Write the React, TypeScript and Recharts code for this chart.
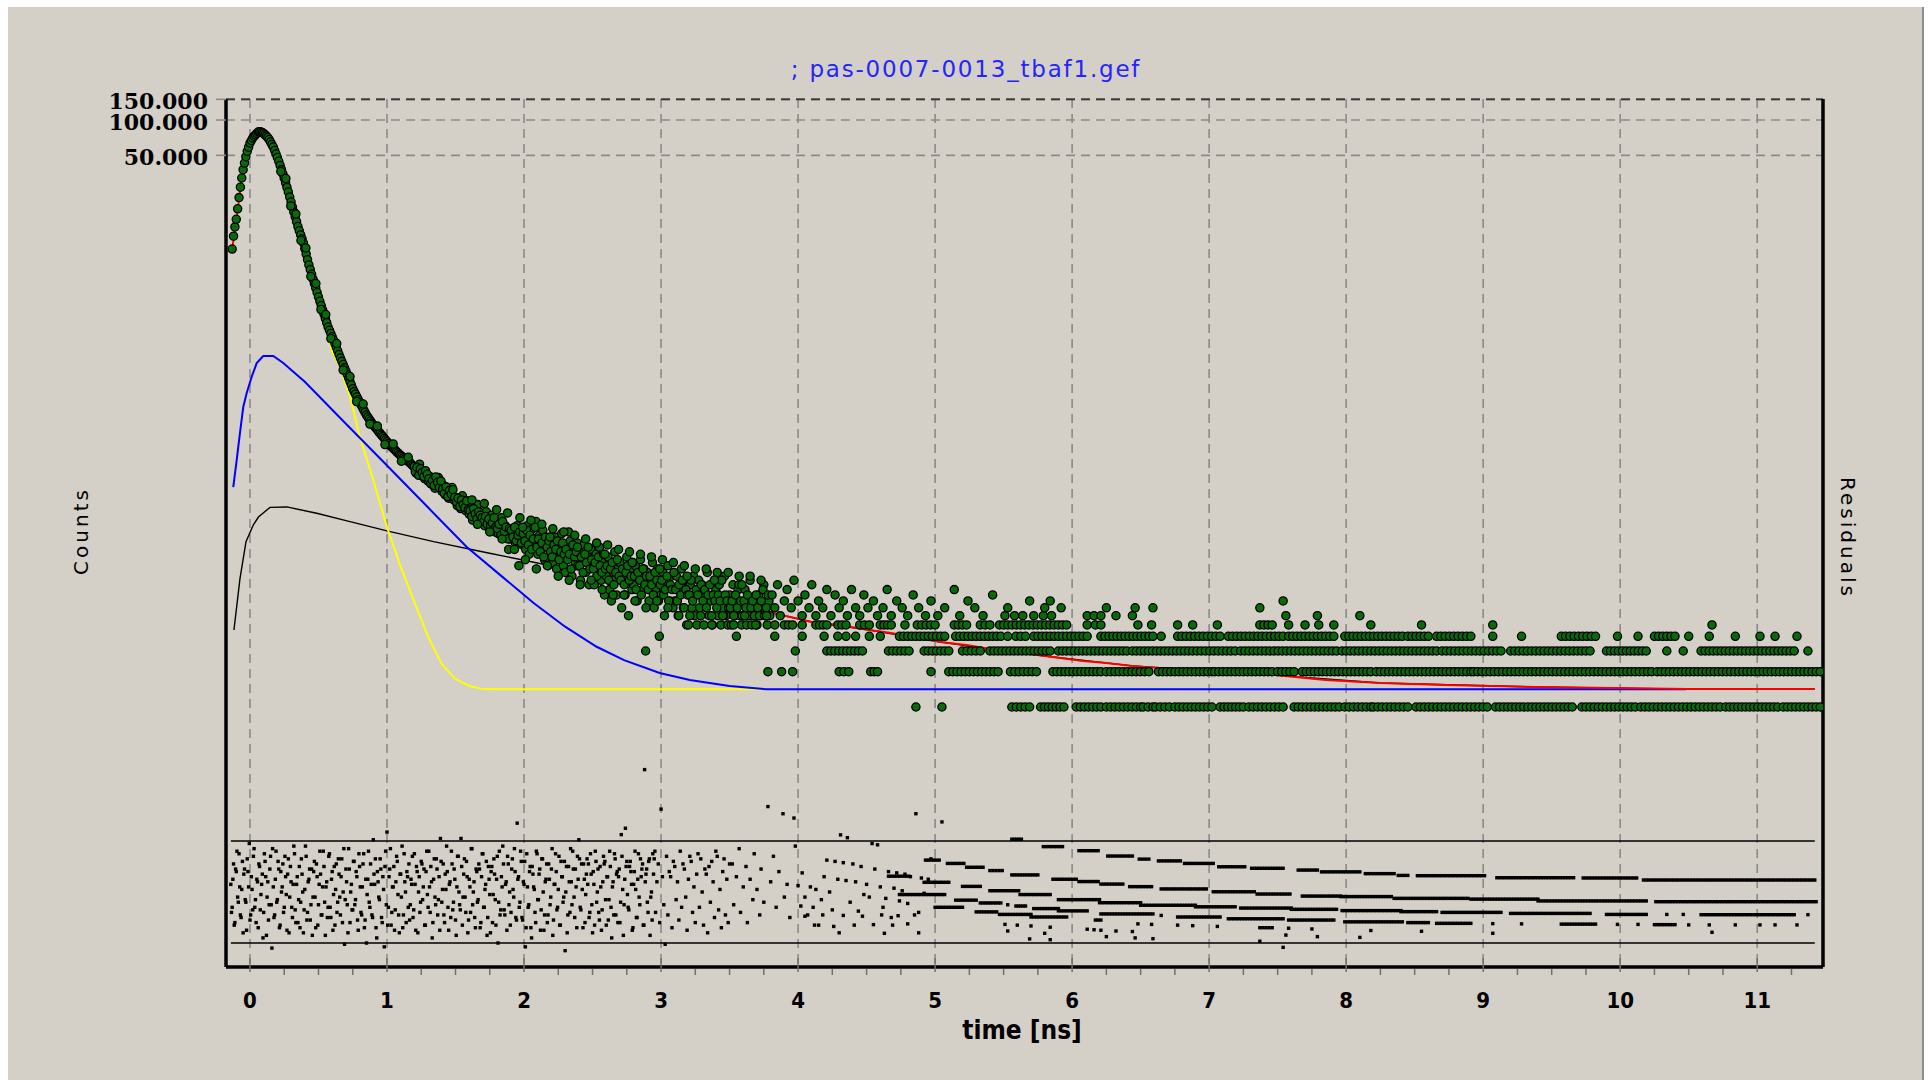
import React from "react";
import { ComposedChart, Line, Scatter, XAxis, YAxis, CartesianGrid, ReferenceLine } from "recharts";

type Pair = [number, number];
type Run = [number, number];
type ResidRun = [number, number, number];

// channel width of the histogram (ns) and spacing used when a run of equal counts is drawn
const CHANNEL_NS = 0.0125;
const RUN_STEP = 0.03;
const RESID_STEP = 0.01;
const RESID_RUN_STEP = 0.02;

// --- axis ticks ---
const timeTicks = [0, 0.25, 0.5, 0.75, 1, 1.25, 1.5, 1.75, 2, 2.25, 2.5, 2.75, 3, 3.25, 3.5, 3.75, 4, 4.25, 4.5, 4.75, 5, 5.25, 5.5, 5.75, 6, 6.25, 6.5, 6.75, 7, 7.25, 7.5, 7.75, 8, 8.25, 8.5, 8.75, 9, 9.25, 9.5, 9.75, 10, 10.25, 10.5, 10.75, 11, 11.25];
const gridTicks = [0, 1, 2, 3, 4, 5, 6, 7, 8, 9, 10, 11];
const countTicks = [50000, 100000, 150000];

// --- measured decay: rise, peak and fast part [t ns, counts] ---
const traceData: Pair[] = [
  [-0.13, 7960], [-0.12, 10240], [-0.11, 12270], [-0.1, 14260], [-0.09, 17520], [-0.08, 21830],
  [-0.07, 26770], [-0.06, 32060], [-0.05, 37730], [-0.04, 43020], [-0.03, 48640], [-0.02, 54130],
  [-0.01, 58660], [0, 63710], [0.01, 66900], [0.02, 70270], [0.03, 72780], [0.04, 74820],
  [0.05, 76900], [0.06, 79040], [0.07, 79350], [0.08, 79040], [0.09, 78120], [0.1, 76900],
  [0.11, 74820], [0.12, 72930], [0.13, 70940], [0.14, 68220], [0.15, 64940], [0.16, 61830],
  [0.17, 58880], [0.18, 54980], [0.19, 51330], [0.2, 47930], [0.21, 44540], [0.22, 41060],
  [0.23, 37810], [0.24, 34850], [0.25, 31940], [0.26, 29180], [0.27, 26670], [0.28, 24360],
  [0.29, 22090], [0.3, 20030], [0.31, 18160], [0.32, 16490], [0.33, 14980], [0.34, 13610],
  [0.35, 12380], [0.36, 11380], [0.37, 10500], [0.38, 9710], [0.39, 8960], [0.4, 8027],
  [0.41, 7208], [0.42, 6458], [0.43, 5833], [0.44, 5318], [0.45, 4850], [0.46, 4414],
  [0.47, 4042], [0.48, 3707], [0.49, 3394], [0.5, 3107], [0.51, 2856], [0.52, 2625],
  [0.53, 2413], [0.54, 2222], [0.55, 2043], [0.56, 1877], [0.57, 1725], [0.58, 1619],
  [0.59, 1519], [0.6, 1425], [0.61, 1337], [0.62, 1246], [0.63, 1161], [0.64, 1082],
  [0.65, 1006], [0.66, 939], [0.67, 880], [0.68, 827], [0.69, 775], [0.7, 728],
  [0.71, 681], [0.72, 634], [0.73, 592], [0.74, 553], [0.75, 515], [0.76, 486],
  [0.77, 462], [0.78, 438], [0.79, 415], [0.8, 395], [0.81, 375], [0.82, 357],
  [0.83, 339], [0.84, 323], [0.85, 307], [0.86, 295], [0.87, 284], [0.88, 273],
  [0.89, 262], [0.9, 252], [0.91, 244], [0.92, 237], [0.93, 229], [0.94, 221],
  [0.95, 214], [0.96, 207], [0.97, 201], [0.98, 194], [0.99, 188], [1.0, 182],
  [1.01, 176], [1.02, 170], [1.03, 166], [1.04, 162], [1.05, 158], [1.06, 154],
  [1.07, 149], [1.08, 146], [1.09, 142], [1.1, 139], [1.11, 136], [1.12, 133],
  [1.13, 130], [1.14, 127], [1.15, 125], [1.16, 122], [1.17, 120], [1.18, 116], [1.19, 113],
];
// channels sitting off the centre of the trace (gives it its width)
const traceEdge: Pair[] = [
  [0.225, 36420], [0.262, 31750], [0.298, 18510], [0.335, 15820], [0.372, 9410], [0.408, 8124],
  [0.444, 4645], [0.481, 4049], [0.518, 2431], [0.553, 2204], [0.59, 1376], [0.633, 1248],
  [0.68, 742], [0.73, 653], [0.778, 400], [0.826, 381], [0.875, 257], [0.93, 247],
  [0.985, 172], [1.045, 174], [1.105, 124], [1.155, 134],
];

// counts per channel from 1.2 ns (8 channels = 0.1 ns), two interleaved channel sets
const CLOUD_START = 1.2;
const cloudCounts: number[] = [
  112, 98, 104, 117, 95, 101, 88, 97,
  84, 92, 79, 86, 73, 81, 90, 75,
  69, 77, 64, 71, 60, 68, 74, 58,
  61, 52, 57, 49, 63, 54, 47, 55,
  44, 51, 39, 47, 42, 53, 37, 45,
  41, 35, 46, 38, 33, 43, 39, 31,
  37, 30, 34, 41, 28, 35, 32, 22,
  27, 33, 30, 25, 35, 16, 31, 24,
  31, 22, 35, 20, 28, 33, 24, 38,
  20, 29, 23, 32, 18, 27, 16, 25,
  25, 17, 28, 15, 23, 20, 30, 16,
  14, 23, 31, 26, 13, 21, 17, 25,
  21, 12, 18, 24, 14, 20, 11, 22,
  18, 11, 20, 14, 23, 12, 17, 9,
  13, 19, 10, 8, 12, 21, 9, 16,
  17, 7, 13, 9, 19, 6, 15, 10,
  11, 16, 8, 13, 18, 10, 15, 3,
  14, 8, 12, 17, 7, 10, 15, 4,
  9, 14, 6, 11, 16, 8, 13, 7,
  8, 13, 6, 10, 15, 7, 12, 5,
  5, 11, 7, 13, 9, 5, 12, 6,
  11, 5, 9, 14, 6, 8, 5, 12,
  10, 6, 11, 5, 7, 13, 6, 5,
  9, 5, 11, 6, 4, 10, 6, 5,
  6, 10, 5, 8, 12, 5, 7, 6,
  5, 9, 6, 7, 11, 6, 5, 8,
];
const CLOUD_START_B = 1.20625;
const cloudCountsB: number[] = [
  101, 110, 94, 107, 99, 92, 103, 96,
  88, 80, 85, 77, 91, 82, 74, 84,
  72, 66, 75, 62, 70, 65, 71, 61,
  56, 60, 51, 58, 53, 50, 57, 48,
  47, 42, 49, 44, 40, 46, 43, 41,
  38, 42, 36, 40, 35, 37, 41, 34,
  33, 36, 29, 38, 31, 34, 27, 33,
  32, 28, 34, 26, 29, 31, 25, 30,
  26, 32, 24, 29, 22, 27, 34, 23,
  27, 21, 25, 19, 28, 23, 26, 21,
  19, 24, 22, 26, 18, 21, 25, 20,
  22, 18, 20, 15, 24, 19, 21, 16,
  16, 19, 14, 20, 17, 23, 15, 18,
  15, 17, 13, 19, 16, 14, 20, 15,
  16, 12, 15, 17, 11, 14, 18, 13,
  12, 15, 11, 14, 16, 12, 13, 17,
  13, 10, 14, 12, 9, 15, 11, 13,
  10, 13, 11, 9, 14, 12, 8, 11,
  12, 9, 10, 13, 8, 11, 10, 14,
  10, 8, 11, 9, 12, 7, 10, 9,
  9, 12, 8, 6, 10, 9, 7, 11,
  8, 10, 7, 9, 11, 6, 9, 8,
  7, 9, 8, 12, 6, 9, 8, 7,
  7, 8, 6, 9, 7, 11, 8, 6,
  8, 7, 9, 6, 7, 8, 6, 9,
  7, 6, 8, 10, 6, 7, 9, 6,
];
// channels at the upper and lower edge of the noisy part [t, counts]
const cloudOuter: Pair[] = [
  [1.62, 58], [1.66, 36], [1.71, 54], [1.75, 31], [1.8, 48], [1.84, 27], [1.88, 45], [1.93, 22],
  [1.97, 41], [2.01, 18], [2.05, 39], [2.09, 15], [2.13, 36], [2.17, 16], [2.21, 33], [2.25, 13],
  [2.29, 31], [2.33, 12], [2.37, 29], [2.41, 11], [2.45, 27], [2.49, 12], [2.53, 25], [2.57, 10],
  [2.61, 24], [2.65, 9], [2.69, 22], [2.73, 9], [2.77, 21], [2.81, 8], [2.85, 20], [2.89, 7],
  [2.93, 19], [2.97, 8], [3.01, 18], [3.05, 7], [3.09, 17], [3.13, 6], [3.17, 16], [3.21, 6],
  [3.25, 15], [3.29, 6], [3.33, 15], [3.37, 5], [3.41, 14], [3.45, 6], [3.49, 14], [3.53, 5],
  [3.57, 13], [3.61, 6], [3.65, 13], [3.69, 5], [3.73, 12], [3.77, 6],
  [1.99, 34], [2.19, 28], [2.39, 23], [2.59, 20], [2.79, 17], [2.99, 15], [3.19, 13], [3.39, 12], [3.59, 11],
];

// single higher counts in the tail [t, counts]
const tailSparse: Pair[] = [
  [3.81, 9], [3.83, 7], [3.85, 11], [3.87, 6], [3.9, 8], [3.92, 10], [3.95, 7], [3.97, 12], [4.0, 8],
  [4.03, 6], [4.05, 9], [4.08, 7], [4.1, 11], [4.13, 6], [4.15, 8], [4.18, 7], [4.21, 10], [4.24, 6],
  [4.27, 9], [4.3, 7], [4.33, 8], [4.36, 6], [4.39, 10], [4.42, 7], [4.45, 6], [4.48, 9], [4.51, 7],
  [4.55, 8], [4.58, 6], [4.62, 7], [4.65, 10], [4.68, 6], [4.72, 8], [4.76, 7], [4.8, 6], [4.84, 9],
  [4.88, 7], [4.93, 6], [4.97, 8], [5.02, 6], [5.07, 7], [5.14, 10], [5.18, 6], [5.24, 8], [5.29, 7],
  [5.35, 6], [5.42, 9], [5.51, 6], [5.53, 7], [5.58, 6], [5.64, 6], [5.69, 8], [5.72, 6], [5.79, 6],
  [5.8, 7], [5.84, 8], [5.85, 6], [5.92, 7], [6.11, 6], [6.16, 6], [6.21, 6], [6.25, 7], [6.32, 6],
  [6.44, 6], [6.46, 7], [6.59, 7], [7.37, 7], [7.54, 8], [7.56, 6], [7.79, 6], [8.1, 6],
];

// runs of channels with the same low count in the tail [from, to]
const runsCount5: Run[] = [
  [3.83, 3.83], [3.9, 3.96], [4.03, 4.03], [4.13, 4.21], [4.29, 4.35], [4.45, 4.52], [4.6, 4.68],
  [4.78, 4.78], [4.87, 5.0], [5.14, 5.23], [5.33, 5.4], [5.47, 5.96], [6.11, 6.11], [6.17, 6.21],
  [6.48, 6.48], [6.58, 6.58], [6.77, 6.77], [6.88, 6.88], [7.06, 7.06], [7.37, 7.46], [7.58, 7.58],
  [7.7, 7.7], [7.8, 7.8], [7.91, 7.91], [8.18, 8.18], [8.55, 8.55], [9.07, 9.07], [10.67, 10.67],
];
const runsCount4: Run[] = [
  [3.83, 3.83], [4.03, 4.03], [4.19, 4.19], [4.29, 4.29], [4.35, 4.35], [4.42, 4.42], [4.52, 4.52],
  [4.6, 4.6], [4.74, 5.07], [5.15, 5.3], [5.33, 5.48], [5.53, 5.53], [5.59, 5.66], [5.72, 6.11],
  [6.21, 6.59], [6.65, 6.65], [6.77, 7.08], [7.14, 7.54], [7.58, 7.91], [7.99, 8.41], [8.45, 8.6],
  [8.66, 8.91], [9.07, 9.07], [9.28, 9.28], [9.57, 9.82], [9.98, 9.98], [10.13, 10.13], [10.25, 10.4],
  [10.5, 10.5], [10.65, 10.65], [10.84, 10.84], [11.02, 11.02], [11.13, 11.13], [11.29, 11.29],
];
const runsCount3: Run[] = [
  [3.98, 3.98], [4.21, 4.47], [4.66, 4.81], [4.92, 5.1], [5.2, 5.33], [5.4, 5.84], [5.9, 6.4],
  [6.44, 6.85], [6.88, 7.19], [7.23, 7.93], [7.97, 8.66], [8.7, 9.13], [9.2, 9.78], [9.9, 10.19],
  [10.34, 10.34], [10.46, 10.46], [10.59, 11.27], [11.37, 11.37],
];
const runsCount2: Run[] = [
  [3.78, 3.78], [3.88, 3.88], [3.96, 3.96], [4.3, 4.37], [4.53, 4.58], [4.97, 4.97], [5.1, 5.46],
  [5.55, 5.74], [5.86, 6.21], [6.25, 6.56], [6.63, 7.02], [7.04, 7.46], [7.5, 7.62], [7.68, 8.18],
  [8.22, 8.91], [8.93, 10.23], [10.27, 11.46],
];
const runsCount1: Run[] = [
  [4.86, 4.86], [5.05, 5.05], [5.56, 5.69], [5.77, 5.94], [6.03, 6.21], [6.25, 6.5], [6.52, 6.59],
  [6.61, 6.71], [6.75, 7.02], [7.08, 7.25], [7.29, 7.54], [7.62, 7.95], [7.99, 8.18], [8.2, 8.45],
  [8.51, 9.03], [9.09, 9.65], [9.72, 10.11], [10.15, 10.73], [10.77, 11.15], [11.19, 11.46],
];

// --- fit and its components [t, counts] ---
const fitCurve: Pair[] = [
  [-0.13, 7900], [-0.097, 14800], [-0.06, 32000], [-0.024, 52000], [0.024, 71500], [0.06, 78500],
  [0.097, 77000], [0.17, 58500], [0.243, 34000], [0.316, 17000], [0.39, 9000], [0.462, 4300],
  [0.535, 2300], [0.61, 1330], [0.706, 700], [0.803, 385], [0.9, 250], [1.02, 170], [1.168, 118],
  [1.34, 84], [1.53, 57], [1.73, 40], [2.0, 25], [2.3, 18.5], [2.58, 14.1], [2.97, 10.5], [3.25, 8.66],
  [3.72, 6.71], [4.1, 5.3], [4.3, 4.99], [4.52, 4.53], [4.68, 4.27], [5.04, 3.58], [5.23, 3.37],
  [5.4, 3.12], [5.8, 2.72], [6.08, 2.47], [6.25, 2.37], [6.44, 2.24], [6.63, 2.15], [7.0, 2.03],
  [7.48, 1.87], [7.85, 1.7], [8.25, 1.6], [8.72, 1.54], [9.39, 1.48], [10.5, 1.42], [11.42, 1.42],
];
const fastComponent: Pair[] = [
  [-0.13, 7510], [-0.097, 14070], [-0.06, 30200], [0, 60100], [0.06, 74600], [0.097, 73100],
  [0.17, 55600], [0.243, 31400], [0.316, 15820], [0.39, 8280], [0.462, 3933], [0.535, 2057],
  [0.596, 1099], [0.657, 772], [0.73, 446], [0.8, 203], [0.9, 85.8], [1.0, 34.1], [1.1, 15.6],
  [1.2, 7.84], [1.3, 3.95], [1.4, 2.32], [1.5, 1.73], [1.6, 1.51], [1.7, 1.42], [3.77, 1.415],
];
const midComponent: Pair[] = [
  [-0.122, 74.8], [-0.097, 127], [-0.073, 216], [-0.049, 359], [-0.024, 473], [0.012, 647],
  [0.049, 851], [0.097, 977], [0.17, 977], [0.243, 851], [0.4, 589], [0.7, 259], [1.0, 114],
  [1.3, 50], [1.58, 23.2], [1.84, 12.9], [2.07, 7.69], [2.3, 4.83], [2.53, 3.26], [2.73, 2.51],
  [2.99, 1.95], [3.21, 1.7], [3.5, 1.51], [3.77, 1.415], [10.48, 1.415],
];
const slowComponent: Pair[] = [
  [-0.117, 4.53], [-0.073, 12.4], [-0.029, 25.6], [0.024, 35.5], [0.062, 41.5], [0.146, 50.2],
  [0.27, 50.6], [0.487, 44.7], [0.73, 37.9], [1.0, 31.6], [1.34, 25.6], [1.74, 20.5], [2.17, 16.2],
  [2.58, 13.6], [2.97, 10.4], [3.25, 8.6], [3.72, 6.71], [4.1, 5.3], [4.52, 4.53], [5.04, 3.58],
  [5.4, 3.12], [5.8, 2.72], [6.44, 2.24], [7.0, 2.03], [7.48, 1.87], [8.25, 1.6], [9.39, 1.48],
  [10.5, 1.42], [11.42, 1.42],
];

// --- weighted residuals, two interleaved channel sets ---
const RESID_START = -0.14;
const residEarly: number[] = [
  0.3, -0.6, 1.1, -1.2, 0.8, -0.2, 1.5, -0.9, 0.1, -1.6,
  0.9, -0.4, 1.3, 0.2, -1.1, 0.6, -0.7, 1.7, -0.3, 0.5,
  -1.4, 1.0, -0.1, 0.7, -0.8, 1.2, -1.7, 0.4, -0.5, 1.4,
  -2.2, 0.2, -0.9, 1.6, -0.3, 0.9, -1.3, 0.0, 1.1, -0.6,
  0.6, -1.5, 1.3, -0.2, 0.4, -1.0, 1.8, -0.7, 0.3, -1.2,
  1.0, -0.4, 0.7, -1.6, 0.1, 1.4, -0.8, 0.5, -1.1, 0.9,
  -0.2, 1.2, -1.4, 0.6, -0.5, 1.6, -0.9, 0.2, 1.0, -1.7,
  0.4, -0.6, 1.5, -1.0, 0.8, -0.1, -1.3, 1.1, -0.4, 0.7,
  -0.9, 1.3, 0.0, -2.05, 0.9, -0.5, 1.7, -1.2, 0.3, -0.7,
  1.2, -0.3, 0.6, -1.5, 1.0, -0.8, 0.2, 1.5, -1.1, -2.0,
  0.5, -0.4, 1.1, -0.9, 2.05, 0.3, -1.4, 0.8, -0.2, 1.3,
  -1.0, 0.6, -2.15, 1.6, 2.35, -0.6, 0.9, -1.3, 0.2, 1.0,
  -0.7, 1.4, -0.1, -1.6, 0.7, 1.8, -0.9, 0.4, -1.2, 0.6,
  1.1, -0.5, 0.3, -1.0, 1.5, -1.5, 0.8, 0.0, -0.8, 1.2,
  -0.3, 0.9, -1.3, 1.6, -0.6, 0.2, 1.0, -1.8, 0.5, -0.2,
  1.3, -0.9, 0.6, 2.1, -0.4, 1.1, -1.2, 0.1, 0.8, -1.5,
  0.4, 1.6, -0.7, 0.9, -1.1, 0.2, 1.4, -0.5, 2.1, -1.3,
  0.7, -0.2, 1.2, -1.6, 0.5, -0.8, 1.7, 0.0, -1.0, 0.9,
  -0.4, 1.1, -1.4, 0.6, 1.5, -0.6, 0.3, -1.7, 1.0, -0.1,
  0.8, -1.2, 1.3, -0.3, 0.5, -2.0, 1.6, -0.7, 0.2, 1.1,
  -0.9, 0.4, 1.4, -0.5, -1.3, 0.9, 0.1, 1.7, -1.0, 2.7,
  0.6, -0.4, 1.2, -1.1, 0.3, -2.15, 1.5, -0.6, 0.8, -1.4,
  1.0, 0.2, -0.8, 1.6, -0.3, 0.7, -1.5, 1.3, 0.0, -0.9,
  0.5, -1.2, 1.1, -0.5, 0.9, -1.7, 0.3, 1.5, -0.7, 0.1,
  -1.3, 1.2, 0.6, -0.2, -2.3, 1.0, -0.9, 0.4, 1.7, -0.5,
  0.9, -1.0, 0.2, 1.4, 2.05, -0.6, 1.1, -1.4, 0.5, -0.1,
  1.3, 1.1, -0.8, 0.7, -1.6, 0.3, 1.6, -0.4, 0.9, -1.1,
  0.2, -0.7, 1.4, 1.2, -1.3, 0.6, -0.3, 1.0, -1.8, 0.4,
  1.5, -0.9, 0.8, 0.6, -1.2, 2.25, 0.1, -0.5, 2.5, 1.2,
  -0.6, 1.0, 0.8, -1.5, 0.3, 1.6, -1.0, 0.5, -0.2, 1.3,
  0.9, -1.3, 4.8, 0.7, -0.4, 1.2, -1.7, 0.0, 1.5, 1.3,
  -0.8, 0.4, 1.1, -1.2, 3.25, 0.6, -0.5, -2.05, 1.4, -0.9,
  0.8, 0.6, -1.4, 1.2, 1.0, -0.3, 0.4, -1.1, 1.6, -0.6,
  1.1, 0.9, -0.2, -1.5, 0.5, 1.4, 1.2, -0.8, 0.2, -1.2,
  0.7, 1.5, -0.6, 1.3, 0.0, -1.3, 0.9, 0.7, -1.6, 1.0,
  -0.4, 1.2, 0.4, -1.0, 1.6, 1.4, -0.7, 0.1, -1.4, 0.8,
  1.3, -0.9, 0.5, -1.2, 1.1,
];
const RESID_START_B = -0.135;
const residEarlyB: number[] = [
  -0.8, 0.5, -1.3, 0.9, 1.6, -0.4, 0.2, -1.0, 1.2, 0.7,
  -0.3, -1.5, 0.8, 1.9, -0.9, 0.1, 1.4, -0.6, -1.2, 0.4,
  1.1, -0.7, 0.3, -1.8, 1.5, 0.6, -0.2, -1.1, 0.9, -0.5,
  1.7, -1.0, 0.5, -0.4, 1.2, -1.4, 0.8, 0.2, -0.8, 1.4,
  -0.1, 0.7, -1.6, 1.0, -0.6, 0.3, 1.5, -1.2, 0.6, -0.3,
  -1.4, 1.3, 0.0, -0.7, 1.8, -1.1, 0.4, 0.9, -0.5, -1.7,
  0.8, -0.2, 1.1, -1.3, 0.3, 0.7, -0.9, 1.6, -0.4, 0.2,
  -1.0, 1.4, -0.6, 0.5, -1.5, 1.0, 0.1, -0.8, 1.3, -0.2,
  0.6, -1.2, 1.7, -0.3, 0.4, -1.6, 0.9, 0.0, -0.7, 1.2,
  -0.5, 0.8, -1.1, 1.5, 0.2, -0.9, 1.1, -1.4, 0.5, -0.1,
  1.6, -0.6, 0.3, -1.0, 0.7, 1.3, -1.8, 0.4, -0.3, 0.9,
  -1.2, 0.1, 1.0, -0.5, -1.3, 0.6, 1.7, -0.8, 0.2, -1.5,
  0.4, 1.2, -0.9, 0.7, -0.2, -1.4, 1.5, 0.0, 0.8, -0.6,
  -1.1, 0.5, 1.4, -0.7, 0.3, 1.0, -1.6, 0.6, -0.4, 1.1,
  0.2, -1.3, 0.8, -0.1, 1.6, -0.8, 0.4, -1.2, 1.3, -0.5,
  0.9, -0.3, -1.5, 1.2, 0.1, -0.9, 0.7, 1.8, -0.6, 0.3,
  -1.0, 1.1, -0.4, 0.5, -1.7, 1.4, 0.0, -0.7, 1.0, -0.2,
  1.3, -0.8, 0.6, -1.1, 0.2, 1.7, -0.5, 0.4, -1.4, 0.8,
  -0.3, 0.9, -1.2, 1.5, -0.6, 0.1, 1.2, -1.0, 0.5, -1.6,
  1.0, -0.1, 0.7, -1.3, 1.4, -0.4, -0.9, 0.6, 1.8, -0.7,
  0.3, -1.5, 1.1, 0.0, -0.8, 1.3, -0.2, 0.8, -1.1, 0.5,
  -0.6, 1.6, -1.0, 0.4, 1.2, -1.4, 0.2, -0.5, 1.0, -1.8,
  0.7, 0.1, -1.2, 1.5, -0.3, 0.9, -0.7, 1.3, -1.5, 0.4,
  1.1, -0.9, 0.5, -0.2, 1.7, -1.1, 0.3, 0.8, -0.6, 1.4,
  -1.3, 0.6, -0.4, 1.2, 0.0, -1.6, 1.0, -0.8, 0.4, 1.6,
  -0.2, 0.9, -1.4, 0.5, 1.3, -0.7, 0.1, 1.1, -1.2, 0.7,
  0.3, -1.0, 1.5, -0.5, 0.8, -1.3, 1.2, 0.0, -0.8, 1.0,
  -1.5, 0.4, 1.1, -0.3, 0.6, -1.1, 1.6, -0.6, 0.2, -0.9,
  1.3, 0.7, -1.2, 0.9, -0.4, 1.4, -1.7, 0.5, 1.0, -0.1,
  -0.7, 1.2, 0.3, -1.4, 0.8, 0.1, -1.0, 1.5, -0.5, 0.6,
  1.1, -1.3, 0.4, 0.9, -0.8, 1.3, -0.2, -1.1, 0.7, 1.6,
];
const residMid: Pair[] = [
  [3.52, 1.1], [3.53, -0.5], [3.55, 0.6], [3.57, 1.7], [3.58, -0.8], [3.6, 0.2], [3.62, 1.0], [3.63, -1.2],
  [3.65, 0.5], [3.67, -0.3], [3.68, 1.5], [3.7, 0.1], [3.72, -0.9], [3.73, 0.9], [3.75, -0.4], [3.78, 3.35],
  [3.8, 0.4], [3.82, 1.4], [3.84, -0.6], [3.86, 0.8], [3.89, 3.07], [3.9, -0.2], [3.92, 0.3], [3.94, -1.0],
  [3.97, 2.9], [3.98, 1.8], [4.0, 0.25], [4.02, -0.55], [4.03, 0.75], [4.05, -0.2], [4.07, -0.9], [4.09, 0.2],
  [4.11, -0.6], [4.13, 0.1], [4.15, -1.3], [4.17, -0.3], [4.19, 0.6], [4.21, 1.25], [4.23, 0.0], [4.25, -0.7],
  [4.27, 1.2], [4.29, 0.5], [4.31, 2.24], [4.33, 1.15], [4.35, 0.45], [4.36, 2.13], [4.38, -0.4], [4.4, 1.1],
  [4.42, 0.4], [4.44, -0.75], [4.46, 1.0], [4.48, -0.1], [4.5, 0.3], [4.52, -0.2], [4.54, 1.9], [4.56, 0.9],
  [4.58, 1.85], [4.6, 0.2], [4.62, -0.6], [4.64, -0.25], [4.66, 0.8], [4.68, -1.0], [4.7, 0.15], [4.72, 0.75],
  [4.74, -0.35], [4.76, 0.05], [4.78, 0.7], [4.8, -0.45], [4.82, 0.6], [4.86, 3.07], [4.88, -0.8], [4.9, 0.55],
  [4.92, -0.05], [4.95, 0.5], [4.97, 1.3], [5.05, 2.75],
  [4.05, -0.95], [4.12, -1.3], [4.18, -0.9], [4.26, -1.35], [4.33, -0.92], [4.41, -1.3], [4.47, -0.95],
  [4.55, -1.28], [4.61, -0.9], [4.69, -1.3], [4.73, -0.93], [4.8, -1.25], [4.85, -0.9], [4.88, -1.6],
  [4.3, -1.6], [4.63, -1.62],
  [5.51, -1.27], [5.6, -1.3], [5.7, -1.33], [5.84, -1.38], [6.11, -1.46], [6.16, -1.48], [6.21, -1.5],
  [6.32, -1.53], [6.44, -1.55], [7.56, -1.69], [7.79, -1.75], [8.1, -1.78], [5.53, -1.53], [5.8, -1.62],
  [6.25, -1.75], [6.46, -1.8], [6.59, -1.83], [7.37, -1.93], [5.69, -1.84], [5.84, -1.87], [7.54, -2.17],
];
// residual rows of the tail [from, to, residual]
const residRowsCount1: ResidRun[] = [
  [5.56, 5.63, 2.07], [5.79, 5.93, 1.78], [6.05, 6.19, 1.62], [6.26, 6.44, 1.41], [6.49, 6.56, 1.29],
  [6.63, 6.79, 1.22], [6.82, 7.03, 1.12], [7.07, 7.26, 0.99], [7.31, 7.54, 0.93], [7.65, 7.79, 0.86],
  [7.82, 8.1, 0.79], [8.14, 8.35, 0.72], [8.38, 8.45, 0.65], [8.52, 9.01, 0.64], [9.1, 9.66, 0.56],
  [9.73, 10.12, 0.55], [10.17, 10.75, 0.47], [10.77, 11.17, 0.47], [11.19, 11.42, 0.47],
];
const residRowsCount2: ResidRun[] = [
  [4.93, 5.03, 1.25], [5.09, 5.21, 1.12], [5.23, 5.35, 0.97], [5.4, 5.49, 0.84], [5.56, 5.75, 0.67],
  [5.86, 6.03, 0.5], [6.05, 6.19, 0.41], [6.21, 6.37, 0.31], [6.42, 6.58, 0.21], [6.65, 6.98, 0.12],
  [7.03, 7.33, 0.01], [7.35, 7.59, -0.08], [7.68, 7.96, -0.16], [7.96, 8.33, -0.18], [8.35, 8.89, -0.25],
  [8.91, 9.4, -0.28], [9.4, 10.19, -0.35], [10.26, 11.43, -0.38],
];
const residRowsCount3: ResidRun[] = [
  [4.66, 4.81, 0.62], [4.92, 5.1, 0.38], [5.2, 5.33, 0.22], [5.4, 5.61, 0.05], [5.62, 5.84, -0.1],
  [5.9, 6.2, -0.3], [6.2, 6.5, -0.42], [6.5, 6.9, -0.52], [6.9, 7.19, -0.58], [7.23, 7.6, -0.63],
  [7.6, 7.93, -0.68], [7.97, 8.4, -0.73], [8.4, 8.66, -0.77], [8.7, 9.13, -0.8], [9.2, 9.78, -0.84],
  [9.9, 10.19, -0.88], [10.34, 10.34, -0.88], [10.46, 10.46, -0.88], [10.59, 11.27, -0.89], [11.37, 11.37, -0.89],
];
const residRowsCount4: ResidRun[] = [
  [4.74, 5.07, -0.1], [5.15, 5.3, -0.32], [5.33, 5.48, -0.43], [5.53, 5.53, -0.5], [5.59, 5.66, -0.55],
  [5.72, 5.9, -0.65], [5.9, 6.11, -0.74], [6.21, 6.59, -0.86], [6.65, 6.65, -0.92], [6.77, 7.08, -0.98],
  [7.14, 7.54, -1.05], [7.58, 7.91, -1.1], [7.99, 8.41, -1.17], [8.45, 8.6, -1.2], [8.66, 8.91, -1.23],
  [9.07, 9.07, -1.24], [9.28, 9.28, -1.25], [9.57, 9.82, -1.26], [9.98, 9.98, -1.27], [10.13, 10.13, -1.27],
  [10.25, 10.4, -1.28], [10.5, 10.5, -1.29], [10.65, 10.65, -1.29], [10.84, 10.84, -1.29], [11.02, 11.02, -1.29],
  [11.13, 11.13, -1.29], [11.29, 11.29, -1.29],
];
const residRowsCount5: ResidRun[] = [
  [5.0, 5.2, -0.6], [5.3, 5.45, -0.78], [5.47, 5.7, -0.88], [5.7, 5.96, -0.98], [6.17, 6.21, -1.1],
  [6.48, 6.48, -1.25], [6.58, 6.58, -1.27], [6.77, 6.77, -1.3], [6.88, 6.88, -1.32], [7.06, 7.06, -1.35],
  [7.37, 7.46, -1.4], [7.58, 7.58, -1.42], [7.75, 7.75, -1.45], [8.18, 8.18, -1.51], [8.55, 8.55, -1.54],
  [9.07, 9.07, -1.62], [10.67, 10.67, -1.58],
];

const BAND = 2; // residual band drawn at +/- 2

// --- build the series tables ---
const spread = (a: number, b: number, step: number) => {
  const n = Math.max(0, Math.round((b - a) / step));
  const out: number[] = [];
  for (let i = 0; i <= n; i++) out.push(n === 0 ? a : a + ((b - a) * i) / n);
  return out;
};
const fromRuns = (runs: Run[], c: number) => runs.flatMap(([a, b]) => spread(a, b, RUN_STEP).map((t) => ({ t, c })));
const fromResidRuns = (runs: ResidRun[]) => runs.flatMap(([a, b, r]) => spread(a, b, RESID_RUN_STEP).map((t) => ({ t, r })));
const toRows = (pairs: Pair[]) => pairs.map(([t, c]) => ({ t, c }));

const countData = [
  ...toRows(traceData),
  ...toRows(traceEdge),
  ...cloudCounts.map((c, i) => ({ t: CLOUD_START + i * CHANNEL_NS, c })),
  ...cloudCountsB.map((c, i) => ({ t: CLOUD_START_B + i * CHANNEL_NS, c })),
  ...toRows(cloudOuter),
  ...toRows(tailSparse),
  ...fromRuns(runsCount5, 5),
  ...fromRuns(runsCount4, 4),
  ...fromRuns(runsCount3, 3),
  ...fromRuns(runsCount2, 2),
  ...fromRuns(runsCount1, 1),
];

const residData = [
  ...residEarly.map((r, i) => ({ t: RESID_START + i * RESID_STEP, r })),
  ...residEarlyB.map((r, i) => ({ t: RESID_START_B + i * RESID_STEP, r })),
  ...residMid.map(([t, r]) => ({ t, r })),
  ...fromResidRuns(residRowsCount1),
  ...fromResidRuns(residRowsCount2),
  ...fromResidRuns(residRowsCount3),
  ...fromResidRuns(residRowsCount4),
  ...fromResidRuns(residRowsCount5),
];

const DataDot = (p: any) => {
  if (p.cx == null || p.cy == null) return <g />;
  return <circle cx={p.cx} cy={p.cy} r={4.1} fill="#0a6a0a" stroke="#000" strokeWidth={1.3} />;
};
const ResidDot = (p: any) => {
  if (p.cx == null || p.cy == null) return <g />;
  return <rect x={p.cx - 1.7} y={p.cy - 1.7} width={3.4} height={3.4} fill="#000" />;
};

const tickFont = "'DejaVu Sans Condensed', 'Liberation Sans Narrow', 'DejaVu Sans', sans-serif";

const TimeTick = (p: any) => {
  const { x, y, payload } = p;
  const v = payload.value as number;
  const major = Number.isInteger(v);
  return (
    <g>
      {major ? (
        <line x1={x} x2={x} y1={y - 9} y2={y + 5} stroke="#707070" strokeWidth={1.5} />
      ) : (
        <line x1={x} x2={x} y1={y + 2} y2={y + 8} stroke="#707070" strokeWidth={1.5} />
      )}
      {major && (
        <text x={x} y={y + 41} textAnchor="middle" fontFamily={tickFont} fontWeight="bold" fontSize={22} fill="#000" style={{ fontStretch: "condensed" }}>
          {v}
        </text>
      )}
    </g>
  );
};

const CountTick = (p: any) => {
  const { x, y, payload } = p;
  return (
    <text x={x} y={y + 10} textAnchor="end" fontFamily="'DejaVu Serif', serif" fontWeight="bold" fontSize={22} fill="#000">
      {`${Math.round(payload.value / 1000)}.000`}
    </text>
  );
};

export default function App() {
  return (
    <div style={{ position: "absolute", left: 0, top: 0, width: 1930, height: 1080, background: "#fff", overflow: "hidden" }}>
      <div style={{ position: "absolute", left: 8, top: 7, width: 1914, height: 1073, background: "#d4d0c8", borderRight: "2px solid #8c8c8c" }} />
      <div style={{ position: "absolute", left: 0, top: 0 }}>
        <ComposedChart width={1930} height={1080} margin={{ top: 99, right: 97, bottom: 73, left: 166 }}>
          <XAxis xAxisId="grid" dataKey="t" type="number" orientation="top" height={0} domain={[-0.175, 11.48]} allowDataOverflow ticks={gridTicks} hide />
          <XAxis
            xAxisId="t"
            dataKey="t"
            type="number"
            domain={[-0.175, 11.48]}
            allowDataOverflow
            ticks={timeTicks}
            interval={0}
            height={40}
            tickLine={false}
            tickSize={0}
            tickMargin={0}
            axisLine={{ stroke: "#000", strokeWidth: 3.5 }}
            tick={TimeTick}
          />
          <YAxis
            yAxisId="counts"
            dataKey="c"
            type="number"
            scale="log"
            domain={[0.0061, 151000]}
            allowDataOverflow
            ticks={countTicks}
            interval={0}
            width={60}
            tickSize={10}
            tickMargin={8}
            tickLine={{ stroke: "#8a8a8a", strokeWidth: 1.6 }}
            axisLine={{ stroke: "#000", strokeWidth: 3.5 }}
            tick={CountTick}
          />
          <YAxis
            yAxisId="resid"
            dataKey="r"
            orientation="right"
            type="number"
            domain={[-2.941, 31.098]}
            allowDataOverflow
            width={10}
            tick={false}
            tickLine={false}
            axisLine={{ stroke: "#000", strokeWidth: 3.5 }}
          />
          <CartesianGrid xAxisId="grid" yAxisId="counts" stroke="#8a8a8a" strokeWidth={1.6} strokeDasharray="9 6" />
          <ReferenceLine xAxisId="t" yAxisId="counts" y={150000} stroke="#383838" strokeWidth={1.6} strokeDasharray="9 6" />
          <ReferenceLine xAxisId="t" yAxisId="resid" segment={[{ x: -0.139, y: BAND }, { x: 11.42, y: BAND }]} stroke="#000" strokeWidth={1.6} />
          <ReferenceLine xAxisId="t" yAxisId="resid" segment={[{ x: -0.139, y: -BAND }, { x: 11.42, y: -BAND }]} stroke="#000" strokeWidth={1.6} />
          <Line xAxisId="t" yAxisId="counts" data={toRows(slowComponent)} dataKey="c" type="linear" stroke="#000" strokeWidth={1.4} dot={false} isAnimationActive={false} />
          <Line xAxisId="t" yAxisId="counts" data={toRows(fastComponent)} dataKey="c" type="linear" stroke="#ffff00" strokeWidth={2} dot={false} isAnimationActive={false} />
          <Line xAxisId="t" yAxisId="counts" data={toRows(midComponent)} dataKey="c" type="linear" stroke="#0000ff" strokeWidth={2} dot={false} isAnimationActive={false} />
          <Line xAxisId="t" yAxisId="counts" data={toRows(fitCurve)} dataKey="c" type="linear" stroke="#ff0000" strokeWidth={2} dot={false} isAnimationActive={false} />
          <Scatter xAxisId="t" yAxisId="counts" data={countData} dataKey="c" shape={DataDot} isAnimationActive={false} />
          <Scatter xAxisId="t" yAxisId="resid" data={residData} dataKey="r" shape={ResidDot} isAnimationActive={false} />
        </ComposedChart>
      </div>
      <div style={{ position: "absolute", left: 566, top: 55, width: 800, textAlign: "center", color: "#2424ff", fontFamily: "'DejaVu Sans', sans-serif", fontSize: 23, letterSpacing: 1.8, lineHeight: "28px", whiteSpace: "nowrap" }}>
        ; pas-0007-0013_tbaf1.gef
      </div>
      <div style={{ position: "absolute", left: 81, top: 531, transform: "translate(-50%, -50%) rotate(-90deg)", fontFamily: "'DejaVu Sans', sans-serif", fontSize: 20, letterSpacing: 3, lineHeight: 1, whiteSpace: "nowrap", color: "#000" }}>
        Counts
      </div>
      <div style={{ position: "absolute", left: 1848, top: 538, transform: "translate(-50%, -50%) rotate(90deg)", fontFamily: "'DejaVu Sans', sans-serif", fontSize: 20, letterSpacing: 3, lineHeight: 1, whiteSpace: "nowrap", color: "#000" }}>
        Residuals
      </div>
      <div style={{ position: "absolute", left: 1022, top: 1017, transform: "translateX(-50%)", fontFamily: tickFont, fontStretch: "condensed", fontWeight: "bold", fontSize: 26, lineHeight: "26px", whiteSpace: "nowrap", color: "#000" }}>
        time [ns]
      </div>
    </div>
  );
}
